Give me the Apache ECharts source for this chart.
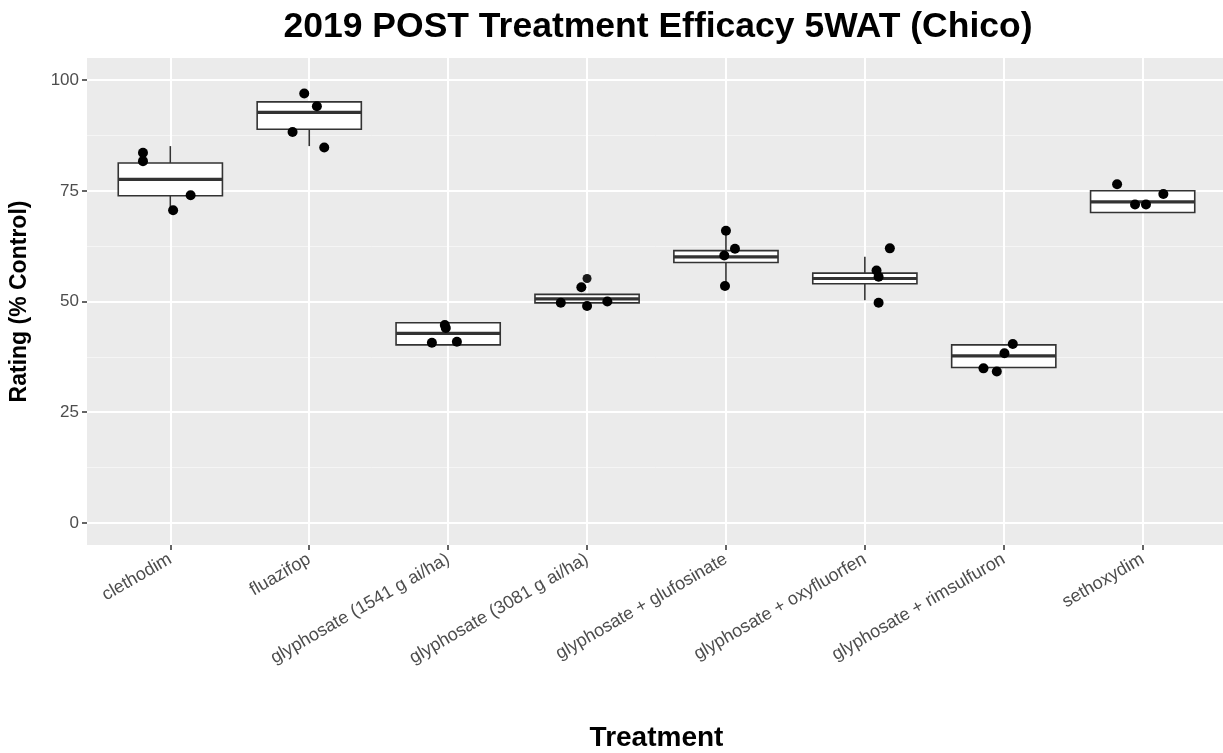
<!DOCTYPE html>
<html>
<head>
<meta charset="utf-8">
<script src="https://cdn.jsdelivr.net/npm/echarts@6/dist/echarts.min.js"></script>
<style>
  html, body { margin: 0; padding: 0; background: #fff; }
  #chart { width: 1223px; height: 753px; }
</style>
</head>
<body>
<div id="chart"></div>
<script>
const categories = [
  'clethodim', 'fluazifop', 'glyphosate (1541 g ai/ha)', 'glyphosate (3081 g ai/ha)',
  'glyphosate + glufosinate', 'glyphosate + oxyfluorfen', 'glyphosate + rimsulfuron', 'sethoxydim'
];

// box stats
const boxMin    = [70.6, 85.1, 40.2, 49.7, 53.5, 50.3, 35.1, 70.1];
const boxQ1     = [73.9, 88.9, 40.2, 49.7, 58.8, 54.0, 35.1, 70.1];
const boxMedian = [77.6, 92.7, 42.8, 50.6, 60.1, 55.2, 37.7, 72.5];
const boxQ3     = [81.3, 95.1, 45.2, 51.6, 61.5, 56.4, 40.2, 75.0];
const boxMax    = [85.1, 95.1, 45.2, 51.6, 66.0, 60.1, 40.2, 75.0];

// boxplot outliers
const outlierCat = [4];
const outlierValue = [55.2];

// jittered points: category (1-based), x jitter, rating
const pointCat = [
  1, 1, 1, 1,
  2, 2, 2, 2,
  3, 3, 3, 3,
  4, 4, 4, 4,
  5, 5, 5, 5,
  6, 6, 6, 6,
  7, 7, 7, 7,
  8, 8, 8, 8
];
const pointJitter = [
  -0.197, -0.197, 0.146, 0.020,
  -0.036, 0.055, -0.120, 0.108,
  -0.024, -0.017, -0.117, 0.063,
  -0.041, -0.189, 0.000, 0.146,
  0.000, 0.065, -0.012, -0.007,
  0.180, 0.084, 0.099, 0.099,
  0.065, 0.005, -0.146, -0.050,
  -0.184, 0.149, -0.055, 0.024
];
const pointValue = [
  83.6, 81.7, 74.0, 70.6,
  97.0, 94.1, 88.3, 84.8,
  44.7, 44.0, 40.7, 40.9,
  53.2, 49.7, 49.0, 50.0,
  66.0, 61.9, 60.4, 53.5,
  62.0, 57.0, 55.6, 49.7,
  40.4, 38.3, 34.9, 34.2,
  76.5, 74.3, 71.9, 71.9
];

const yTicks = [0, 25, 50, 75, 100];
const yMinor = [12.5, 37.5, 62.5, 87.5];
const xTicks = categories.map((c, i) => i + 1);

const font = "'Liberation Sans', Arial, Helvetica, sans-serif";
const halfBox = 0.375;

const boxData = categories.map((c, i) =>
  [i + 1, boxMin[i], boxQ1[i], boxMedian[i], boxQ3[i], boxMax[i]]);

function renderBox(params, api) {
  const x = api.value(0);
  const lo = api.coord([x, api.value(1)]);
  const q1l = api.coord([x - halfBox, api.value(2)]);
  const q3r = api.coord([x + halfBox, api.value(4)]);
  const medL = api.coord([x - halfBox, api.value(3)]);
  const medR = api.coord([x + halfBox, api.value(3)]);
  const hi = api.coord([x, api.value(5)]);
  const q1c = api.coord([x, api.value(2)]);
  const q3c = api.coord([x, api.value(4)]);
  const stroke = { stroke: '#333333', lineWidth: 1.6 };
  return {
    type: 'group',
    children: [
      { type: 'line', shape: { x1: hi[0], y1: hi[1], x2: q3c[0], y2: q3c[1] }, style: stroke },
      { type: 'line', shape: { x1: lo[0], y1: lo[1], x2: q1c[0], y2: q1c[1] }, style: stroke },
      {
        type: 'rect',
        shape: { x: q1l[0], y: q3r[1], width: q3r[0] - q1l[0], height: q1l[1] - q3r[1] },
        style: { fill: '#ffffff', stroke: '#333333', lineWidth: 1.6 }
      },
      { type: 'line', shape: { x1: medL[0], y1: medL[1], x2: medR[0], y2: medR[1] },
        style: { stroke: '#333333', lineWidth: 3.2 } }
    ]
  };
}

const chart = echarts.init(document.getElementById('chart'), null, { renderer: 'canvas' });

const option = {
  backgroundColor: '#ffffff',
  animation: false,
  textStyle: { fontFamily: font },
  title: {
    text: '2019 POST Treatment Efficacy 5WAT (Chico)',
    left: 653,
    textAlign: 'center',
    top: 4,
    textStyle: { fontFamily: font, fontSize: 35.5, fontWeight: 'bold', color: '#000000' }
  },
  grid: {
    left: 87, top: 58, width: 1139, height: 487,
    show: true, backgroundColor: '#EBEBEB', borderWidth: 0,
    outerBoundsMode: 'none'
  },
  xAxis: {
    type: 'value',
    min: 0.4,
    max: 8.6,
    name: 'Treatment',
    nameLocation: 'middle',
    nameGap: 179,
    nameTextStyle: { fontFamily: font, fontSize: 28, fontWeight: 'bold', color: '#000000' },
    axisLine: { show: false, onZero: false },
    axisTick: { show: true, customValues: xTicks, length: 5, lineStyle: { color: '#333333', width: 1.5 } },
    axisLabel: {
      customValues: xTicks,
      rotate: 30,
      margin: 13,
      fontSize: 18,
      color: '#4D4D4D',
      fontFamily: font,
      formatter: v => categories[Math.round(v) - 1]
    },
    splitLine: { show: true, lineStyle: { color: '#ffffff', width: 2 } }
  },
  yAxis: [
    {
      type: 'value',
      min: -5,
      max: 105,
      name: 'Rating (% Control)',
      nameLocation: 'middle',
      nameGap: 56,
      nameTextStyle: { fontFamily: font, fontSize: 23, fontWeight: 'bold', color: '#000000' },
      axisLine: { show: false, onZero: false },
      axisTick: { show: true, customValues: yTicks, length: 5, lineStyle: { color: '#333333', width: 1.5 } },
      axisLabel: { customValues: yTicks, margin: 8, fontSize: 17, color: '#4D4D4D', fontFamily: font },
      splitLine: { show: true, lineStyle: { color: '#ffffff', width: 2 } }
    },
    {
      type: 'value',
      min: -5,
      max: 105,
      position: 'left',
      axisLine: { show: false, onZero: false },
      axisTick: { show: false, customValues: yMinor },
      axisLabel: { show: false, customValues: yMinor },
      splitLine: { show: true, lineStyle: { color: '#F5F5F5', width: 1 } }
    }
  ],
  series: [
    {
      type: 'custom',
      name: 'box',
      renderItem: renderBox,
      encode: { x: 0, y: [1, 2, 3, 4, 5] },
      data: boxData,
      z: 3
    },
    {
      type: 'scatter',
      name: 'outliers',
      symbolSize: 9,
      itemStyle: { color: '#1a1a1a', opacity: 1 },
      data: outlierCat.map((c, i) => [c, outlierValue[i]]),
      z: 4
    },
    {
      type: 'scatter',
      name: 'points',
      symbolSize: 10,
      itemStyle: { color: '#000000', opacity: 1 },
      data: pointCat.map((c, i) => [c + pointJitter[i], pointValue[i]]),
      z: 5
    }
  ]
};

chart.setOption(option);
</script>
</body>
</html>
